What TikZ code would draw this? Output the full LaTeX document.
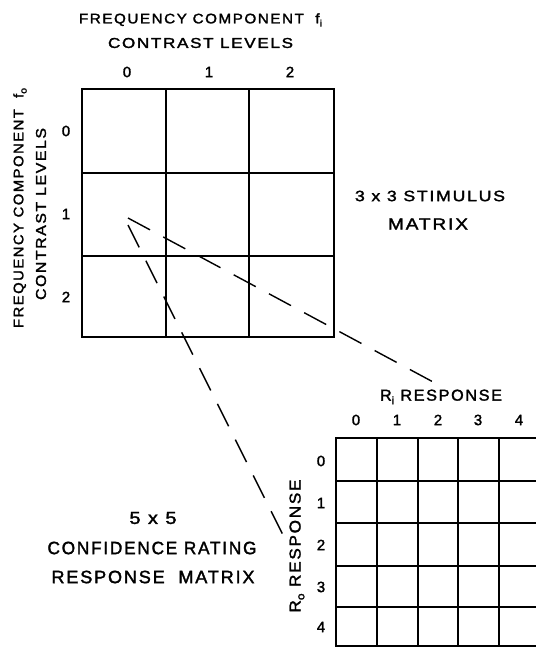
\documentclass[tikz,border=0pt]{standalone}
\usepackage{graphicx}
\usepackage{fontspec}
\setmainfont[LetterSpace=10,FakeBold=1.8]{Liberation Sans}
\newcommand\lsub[1]{\raisebox{-0.45ex}{\fontsize{7}{7}\selectfont #1}}
\newcommand\fitto[3]{\resizebox{#1pt}{#2pt}{#3}}
\begin{document}
\begin{tikzpicture}[x=1pt,y=-1pt,
  lab/.style={font=\fontsize{10}{10}\selectfont, inner sep=0pt, anchor=center},
  dig/.style={font=\fontsize{15}{15}\selectfont, inner sep=0pt, anchor=center},
  grid/.style={line width=2.2pt, line cap=rect},
  dashline/.style={line width=1.4pt, dash pattern=on 25pt off 15pt}]
\useasboundingbox (0,0) rectangle (535,647);
% ---- top labels
\node[lab] (t1) at (200.5,20) {\fitto{243}{10}{FREQUENCY COMPONENT\ \ f\lsub{i}}};
\node[lab] (t2) at (200.5,43) {\fitto{185}{10}{CONTRAST LEVELS}};
\node[dig] (c0) at (127,72) {0};
\node[dig] (c1) at (209,72) {1};
\node[dig] (c2) at (290,72) {2};
% ---- left labels
\node[lab, rotate=90] (l1) at (20,208) {\fitto{240}{10}{FREQUENCY COMPONENT\ \ f\lsub{o}}};
\node[lab, rotate=90] (l2) at (41,214) {\fitto{172}{10}{CONTRAST LEVELS}};
\node[dig] (r0) at (66,131) {0};
\node[dig] (r1) at (66,214) {1};
\node[dig] (r2) at (66,297) {2};
% ---- 3x3 matrix
\draw[grid] (82,89) rectangle (334,337);
\draw[grid] (166,89) -- (166,337) (249,89) -- (249,337)
            (82,173) -- (334,173) (82,256) -- (334,256);
% ---- stimulus label
\node[lab] (s1) at (430,196) {\fitto{150}{10.5}{3 x 3 STIMULUS}};
\node[lab] (s2) at (428,224) {\fitto{80}{11}{MATRIX}};
% ---- response labels
\node[lab] (ri) at (441,397) {\fitto{122}{11}{R\lsub{i} RESPONSE}};
\node[dig] (d0) at (356,420) {0};
\node[dig] (d1) at (397,420) {1};
\node[dig] (d2) at (438,420) {2};
\node[dig] (d3) at (478,420) {3};
\node[dig] (d4) at (519,420) {4};
\node[lab, rotate=90] (ro) at (297,546) {\fitto{133}{11}{R\lsub{o} RESPONSE}};
\node[dig] (e0) at (321,461) {0};
\node[dig] (e1) at (321,503) {1};
\node[dig] (e2) at (321,545) {2};
\node[dig] (e3) at (321,587) {3};
\node[dig] (e4) at (321,627) {4};
% ---- 5x5 matrix (cut by the right edge)
\draw[grid] (336,438) -- (336,646);
\foreach \x in {377,418,458,499} \draw[grid] (\x,438) -- (\x,646);
\foreach \y in {438,481,523,566,607,646} \draw[grid] (336,\y) -- (535,\y);
% ---- response matrix label
\node[lab] (m1) at (153,518) {\fitto{47}{12}{5 x 5}};
\node[lab] (m2) at (152,548) {\fitto{209}{12.5}{CONFIDENCE RATING}};
\node[lab] (m3) at (153,577) {\fitto{203}{12.5}{RESPONSE\ \ MATRIX}};
% ---- dashed connectors
\coordinate (a1) at (128,218);
\coordinate (a2) at (128,225);
\coordinate (b1) at (435,383);
\coordinate (b2) at (284,537);
\draw[dashline] (a1) -- (b1);
\draw[dashline] (a2) -- (b2);
\end{tikzpicture}
\end{document}
